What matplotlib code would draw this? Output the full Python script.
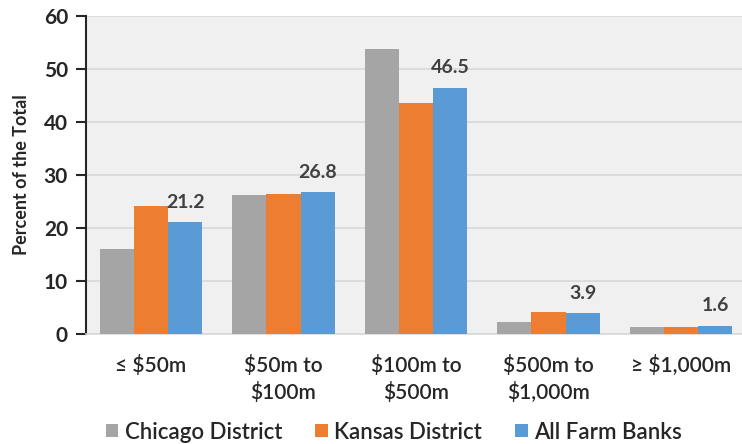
#!/usr/bin/env python3
# coding: utf-8
"""
Farm banks by asset size: share of the total per district
"""

import numpy as np
import matplotlib
matplotlib.use("Agg")
import matplotlib.pyplot as plt

# Data
categories = [
    "\u2264 $50m",
    "$50m to\n$100m",
    "$100m to\n$500m",
    "$500m to\n$1,000m",
    "\u2265 $1,000m",
]
series_names = ["Chicago District", "Kansas District", "All Farm Banks"]
chicago = [16.0, 26.2, 53.7, 2.2, 1.4]
kansas = [24.1, 26.5, 43.5, 4.2, 1.4]
all_farm = [21.2, 26.8, 46.5, 3.9, 1.6]
y_ticks = [0, 10, 20, 30, 40, 50, 60]

colors = ["#a5a5a5", "#ed7d31", "#5b9bd5"]
text_color = "#262626"

plt.rcParams["font.family"] = ["Lato", "DejaVu Sans"]

fig = plt.figure(figsize=(7.42, 4.44), dpi=100)
ax = fig.add_axes([86 / 742, 1 - 334 / 444, 656 / 742, 318 / 444])
ax.set_facecolor("#f0f0f0")

x = np.arange(len(categories))
width = 0.258
for i, (vals, name) in enumerate(zip([chicago, kansas, all_farm], series_names)):
    ax.bar(
        x + (i - 1) * width,
        vals,
        width,
        color=colors[i],
        linewidth=0,
        label=name,
        zorder=3,
    )

# Labels only on the "All Farm Banks" series
for xi, v in zip(x + width, all_farm):
    ax.annotate(
        f"{v:.1f}",
        xy=(xi, v),
        xytext=(0, 8),
        textcoords="offset points",
        ha="center",
        va="bottom",
        fontsize=14,
        fontweight="bold",
        color="#404040",
    )

ax.set_xlim(-0.49, 4.46)
ax.set_ylim(0, 60)
ax.set_yticks(y_ticks)
ax.yaxis.grid(True, color="#d9d9d9", linewidth=1.2, zorder=0)
ax.set_axisbelow(True)

ax.set_xticks(x)
ax.set_xticklabels(categories, fontsize=15, fontweight="semibold",
                   color=text_color, linespacing=1.35)
ax.tick_params(axis="x", length=0, pad=15)
ax.tick_params(axis="y", length=7, width=1.5, color="#262626",
               labelsize=15, labelcolor=text_color, pad=6)
for lbl in ax.get_yticklabels():
    lbl.set_fontweight("bold")

for side in ["top", "right"]:
    ax.spines[side].set_visible(False)
ax.spines["left"].set_color("#262626")
ax.spines["left"].set_linewidth(1.5)
ax.spines["bottom"].set_color("#d9d9d9")
ax.spines["bottom"].set_linewidth(1.2)

ax.set_ylabel("Percent of the Total", fontsize=13, fontweight="bold",
              color=text_color, labelpad=10)

fig.legend(
    loc="center",
    bbox_to_anchor=(394 / 742, 1 - 432 / 444),
    ncol=3,
    frameon=False,
    prop={"size": 16, "weight": "semibold"},
    handlelength=0.55,
    handleheight=0.55,
    handletextpad=0.3,
    columnspacing=1.5,
    labelcolor=text_color,
)

fig.savefig("out.png", dpi=100)
